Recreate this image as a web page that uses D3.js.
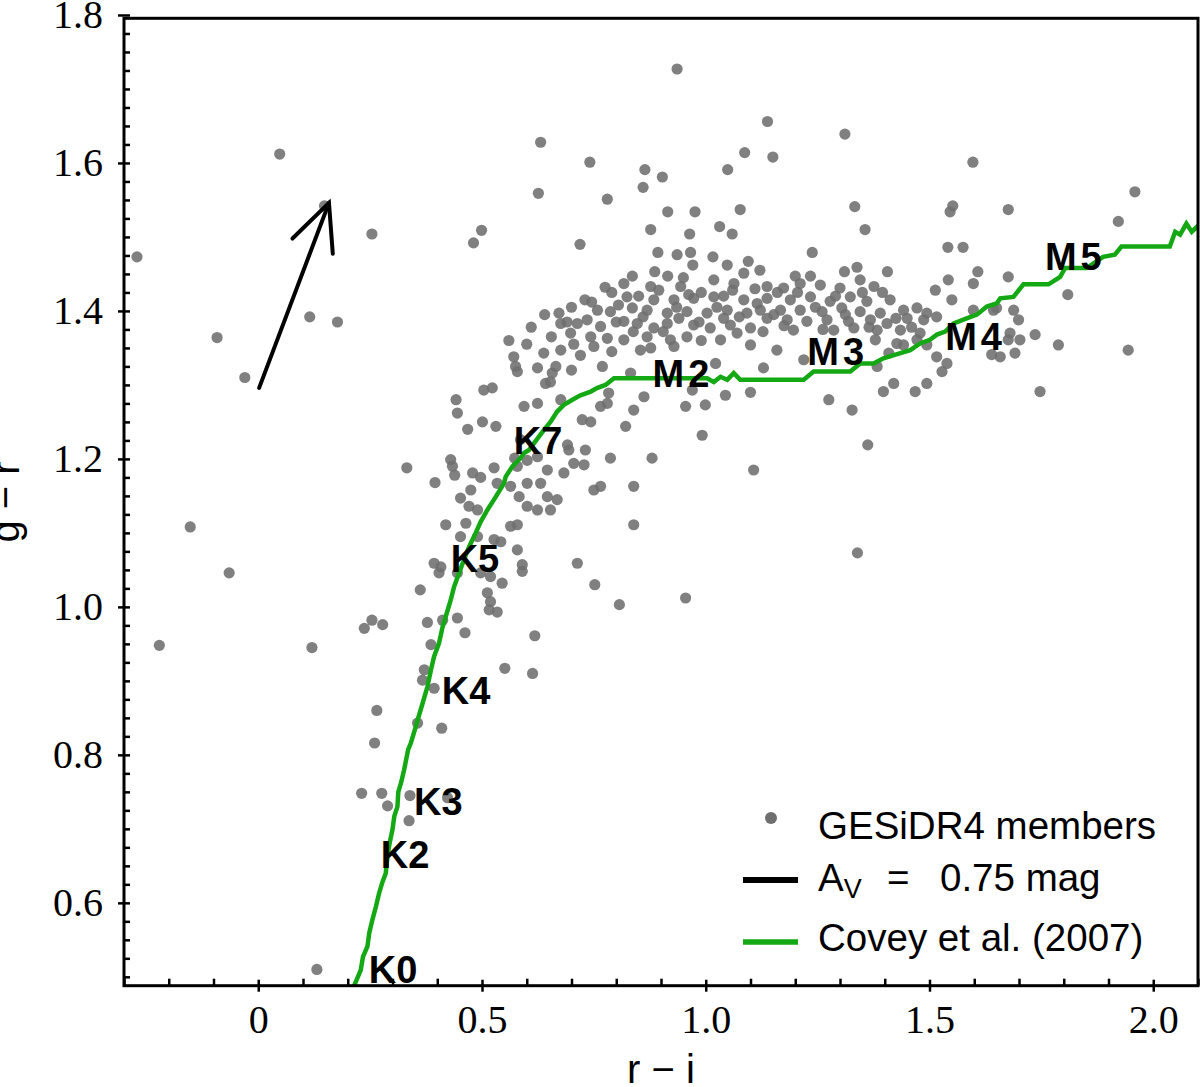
<!DOCTYPE html>
<html>
<head>
<meta charset="utf-8">
<script src="https://cdn.jsdelivr.net/npm/d3@7"></script>
<style>
  body { margin: 0; padding: 0; background: #fff; }
</style>
</head>
<body>
<script>

// GES iDR4 members: [r-i, g-r]
var members = [
  [-0.271,1.473],[0.048,1.612],[0.148,1.542],[0.254,1.504],[-0.092,1.364],[-0.030,1.310],
  [0.115,1.392],[0.177,1.385],[-0.152,1.108],[-0.065,1.046],[-0.221,0.948],[0.120,0.945],
  [0.237,0.971],[0.254,0.982],[0.278,0.976],[0.265,0.860],[0.260,0.816],[0.356,0.843],
  [0.410,0.836],[0.231,0.748],[0.276,0.748],[0.289,0.731],[0.339,0.745],[0.423,0.742],
  [0.337,0.711],[0.131,0.510],[0.631,1.628],[0.626,1.559],[0.481,1.492],[0.499,1.509],
  // upper cloud
  [0.936,1.727],[1.138,1.656],[1.311,1.639],[0.741,1.601],[1.087,1.614],[1.150,1.608],
  [1.597,1.601],[0.864,1.591],[0.903,1.581],[1.049,1.591],[0.860,1.567],[0.780,1.551],
  [0.915,1.534],[0.976,1.534],[1.077,1.537],[1.333,1.541],[1.552,1.542],[1.546,1.534],
  [1.676,1.537],[0.877,1.510],[0.964,1.504],[1.031,1.514],[1.059,1.504],[1.356,1.510],
  [0.719,1.490],[1.541,1.486],[1.575,1.486],[0.893,1.479],[0.936,1.476],[0.966,1.479],
  [1.016,1.473],[1.238,1.479],[0.971,1.462],[1.048,1.462],[1.095,1.467],[1.121,1.455],
  [1.310,1.453],[1.338,1.459],[1.406,1.453],[1.608,1.453],[0.836,1.447],[0.886,1.453],
  [0.915,1.447],[1.200,1.447],[1.234,1.447],
  // dense M-dwarf band
  [1.085,1.451],[0.817,1.437],[0.877,1.433],[0.944,1.433],[1.018,1.442],[1.063,1.437],
  [1.137,1.433],[0.824,1.419],[0.884,1.415],[0.929,1.415],[0.973,1.417],[1.018,1.419],
  [1.085,1.415],[1.137,1.417],[0.758,1.401],[0.787,1.399],[0.836,1.404],[0.869,1.401],
  [0.914,1.397],[0.958,1.399],[1.003,1.397],[1.048,1.401],[1.092,1.397],[1.152,1.395],
  [0.672,1.397],[0.676,1.383],[0.713,1.383],[0.735,1.388],[0.765,1.379],[0.817,1.386],
  [0.847,1.383],[0.884,1.377],[0.914,1.383],[0.973,1.381],[1.010,1.377],[1.055,1.381],
  [1.100,1.377],[0.698,1.370],[0.743,1.365],[0.780,1.363],[0.817,1.361],[0.869,1.365],
  [0.921,1.361],[1.033,1.361],[0.750,1.352],[0.854,1.347],[0.877,1.350],[0.929,1.352],
  [1.100,1.354],[1.159,1.347],[0.676,1.347],[0.571,1.338],[0.638,1.343],[0.575,1.325],
  [0.624,1.323],[0.665,1.325],[0.769,1.325],[1.022,1.329],[1.129,1.323],[0.579,1.318],
  [0.657,1.316],[0.653,1.304],[0.832,1.316],[0.523,1.296],[0.504,1.293],[0.642,1.302],
  [0.783,1.289],[0.862,1.284],[0.970,1.293],[1.044,1.286],[1.100,1.290],[0.676,1.280],
  [0.594,1.271],[0.624,1.275],[0.765,1.271],[0.780,1.275],[0.839,1.266],[0.955,1.271],
  [0.999,1.273],[0.724,1.253],[0.743,1.250],[0.821,1.244],[0.992,1.232],[0.531,1.244],
  [0.501,1.250],[0.586,1.226],[0.691,1.219],[0.880,1.201],[1.107,1.185],
  [0.700,1.405],[0.730,1.415],[0.790,1.425],[0.850,1.420],[0.950,1.445],[0.990,1.425],
  [1.040,1.420],[1.110,1.430],[0.800,1.385],[0.940,1.390],[0.990,1.360],[1.070,1.370],
  [0.720,1.340],[0.600,1.355],[0.700,1.320],
  [0.745,1.412],[0.775,1.432],[0.805,1.408],[0.860,1.392],[0.895,1.428],[0.905,1.372],
  [0.935,1.405],[0.962,1.422],[0.985,1.385],[1.025,1.405],[1.060,1.428],[1.075,1.392],
  [1.115,1.410],[1.128,1.372],[1.160,1.425],[1.175,1.380],[1.205,1.425],[1.245,1.405],
  [1.262,1.375],[1.290,1.420],[1.312,1.395],[1.350,1.425],[1.365,1.378],[1.395,1.425],
  [1.425,1.390],[1.460,1.378],[0.690,1.385],[0.655,1.365],[0.705,1.355],[0.790,1.345],
  [0.838,1.372],[0.958,1.365],[1.040,1.390],[0.610,1.378],[0.640,1.395],[0.560,1.360],
  // toward M3-M5
  [1.676,1.446],[1.174,1.431],[1.211,1.437],[1.256,1.435],[1.300,1.431],[1.345,1.442],
  [1.376,1.433],[1.542,1.442],[1.598,1.437],[1.513,1.428],[1.189,1.415],[1.234,1.419],
  [1.278,1.413],[1.323,1.419],[1.360,1.413],[1.412,1.415],[1.550,1.415],[1.122,1.401],
  [1.167,1.401],[1.211,1.401],[1.260,1.399],[1.304,1.404],[1.345,1.399],[1.390,1.397],
  [1.442,1.401],[1.472,1.404],[1.494,1.397],[1.598,1.401],[1.643,1.401],[1.688,1.401],
  [1.137,1.390],[1.182,1.388],[1.226,1.386],[1.271,1.388],[1.319,1.386],[1.368,1.388],
  [1.405,1.383],[1.450,1.390],[1.487,1.388],[1.516,1.392],[1.699,1.388],[1.196,1.374],
  [1.286,1.374],[1.331,1.377],[1.383,1.374],[1.435,1.374],[1.479,1.370],[1.219,1.334],
  [1.379,1.361],[1.427,1.356],[1.442,1.354],[1.472,1.361],[1.494,1.354],[1.680,1.370],
  [1.702,1.361],[1.736,1.368],[1.676,1.361],[1.788,1.354],[1.639,1.341],[1.658,1.338],
  [1.691,1.343],[1.409,1.343],[1.516,1.338],[1.539,1.329],[1.528,1.318],[1.383,1.325],
  [1.420,1.302],[1.397,1.291],[1.494,1.302],[1.468,1.291],[1.275,1.280],[1.327,1.266],
  [1.747,1.291],[1.959,1.561],[1.922,1.521],[1.809,1.422],[1.650,1.404],[1.944,1.347],
  [1.362,1.219],[1.339,1.073],[0.955,1.012],
  // K-dwarf branch
  [0.332,1.188],[0.395,1.168],[0.430,1.199],[0.434,1.190],[0.439,1.178],[0.479,1.181],
  [0.497,1.175],[0.527,1.188],[0.573,1.201],[0.579,1.190],[0.601,1.198],[0.624,1.203],
  [0.646,1.185],[0.683,1.181],[0.694,1.212],[0.705,1.194],[0.728,1.192],[0.731,1.212],
  [0.787,1.201],[0.839,1.163],[0.750,1.158],[0.765,1.163],[0.839,1.111],[0.452,1.147],
  [0.475,1.158],[0.471,1.136],[0.490,1.131],[0.534,1.167],[0.564,1.163],[0.601,1.167],
  [0.631,1.167],[0.583,1.149],[0.601,1.136],[0.624,1.131],[0.646,1.149],[0.668,1.145],
  [0.653,1.131],[0.419,1.111],[0.464,1.113],[0.452,1.095],[0.490,1.095],[0.527,1.091],
  [0.542,1.088],[0.564,1.109],[0.579,1.111],[0.579,1.077],[0.393,1.059],[0.408,1.054],
  [0.404,1.046],[0.445,1.046],[0.497,1.046],[0.519,1.041],[0.545,1.032],[0.590,1.057],
  [0.590,1.048],[0.713,1.059],[0.752,1.030],[0.807,1.003],[0.362,1.023],[0.512,1.019],
  [0.519,1.007],[0.516,0.996],[0.534,0.993],[0.378,0.979],[0.412,0.982],[0.445,0.985],
  [0.462,0.965],[0.386,0.949],[0.618,0.961],[0.371,0.915],[0.367,0.901],[0.393,0.890],
  [0.551,0.917],[0.613,0.910],[0.442,1.280],[0.445,1.262],[0.468,1.240]
];

// Covey et al. (2007) stellar locus: [r-i, g-r]
var coveyLocus = [
  [0.208,0.479],[0.229,0.509],[0.234,0.527],[0.244,0.541],[0.248,0.559],[0.255,0.577],
  [0.263,0.595],[0.270,0.613],[0.278,0.629],[0.285,0.640],[0.287,0.654],[0.291,0.672],
  [0.295,0.685],[0.300,0.699],[0.304,0.717],[0.311,0.730],[0.313,0.750],[0.319,0.762],
  [0.326,0.780],[0.335,0.807],[0.341,0.816],[0.350,0.834],[0.356,0.847],[0.365,0.865],
  [0.378,0.892],[0.386,0.915],[0.393,0.933],[0.404,0.951],[0.412,0.973],[0.419,0.987],
  [0.430,1.009],[0.4375,1.027],[0.449,1.046],[0.460,1.064],[0.471,1.081],[0.486,1.100],
  [0.497,1.115],[0.512,1.131],[0.531,1.149],[0.549,1.167],[0.553,1.176],[0.568,1.190],
  [0.586,1.201],[0.594,1.208],[0.605,1.212],[0.616,1.221],[0.638,1.239],[0.653,1.250],
  [0.668,1.264],[0.683,1.273],[0.702,1.280],[0.720,1.286],[0.743,1.291],[0.758,1.296],
  [0.776,1.300],[0.795,1.309],[0.817,1.309],[1.003,1.309],[1.018,1.304],[1.033,1.311],
  [1.048,1.307],[1.0625,1.316],[1.077,1.307],[1.219,1.307],[1.241,1.318],[1.323,1.318],
  [1.345,1.329],[1.375,1.329],[1.397,1.336],[1.435,1.343],[1.457,1.347],[1.479,1.356],
  [1.501,1.361],[1.5165,1.368],[1.535,1.372],[1.554,1.383],[1.583,1.390],[1.606,1.395],
  [1.628,1.406],[1.650,1.410],[1.658,1.417],[1.6875,1.419],[1.710,1.436],[1.766,1.436],
  [1.792,1.446],[1.803,1.458],[1.851,1.458],[1.888,1.473],[1.914,1.476],[1.929,1.487],
  [2.037,1.487],[2.049,1.507],[2.060,1.503],[2.074,1.518],[2.086,1.507],[2.100,1.515],
  [2.111,1.520]
];

// spectral type annotations (left/baseline of label)
var spectralTypes = ["K0","K2","K3","K4","K5","K7","M2","M3","M4","M5"];
var spectralRI    = [0.247,0.274,0.348,0.410,0.430,0.571,0.881,1.227,1.535,1.758];
var spectralGR    = [0.491,0.647,0.719,0.869,1.047,1.207,1.297,1.327,1.347,1.455];

// reddening vector for A_V = 0.75 mag
var avStart = [0.002, 1.296];
var avShift = [0.156, 0.250];

var xTicks = [0, 0.5, 1.0, 1.5, 2.0];
var yTicks = [0.6, 0.8, 1.0, 1.2, 1.4, 1.6, 1.8];

var legendLabels = ["GESiDR4 members", "Covey et al. (2007)"];

// ---------------------------------------------------------------
var W = 1200, H = 1087;
var L = 124, R = 1198, T = 18.3, B = 985.7;
var grey = "#6e6e6e", green = "#14a814";
var sans = "'Liberation Sans', Arial, sans-serif";
var serif = "'Liberation Serif', 'Times New Roman', serif";

var x = d3.scaleLinear().domain([-0.3, 2.1]).range([L, R]);
var y = d3.scaleLinear().domain([0.488, 1.7955]).range([B, T]);

var svg = d3.select("body").append("svg")
  .attr("width", W).attr("height", H);

svg.append("defs").append("clipPath").attr("id", "clip")
  .append("rect").attr("x", L).attr("y", T).attr("width", R - L).attr("height", B - T);

var plot = svg.append("g").attr("clip-path", "url(#clip)");

// scatter
plot.selectAll("circle.member").data(members).enter().append("circle")
  .attr("class", "member")
  .attr("cx", function(d){ return x(d[0]); })
  .attr("cy", function(d){ return y(d[1]); })
  .attr("r", 5.6)
  .style("fill", grey)
  .style("fill-opacity", 0.88);

// locus
plot.append("path").datum(coveyLocus)
  .attr("d", d3.line().x(function(d){ return x(d[0]); }).y(function(d){ return y(d[1]); }))
  .style("fill", "none").style("stroke", green).style("stroke-width", 4.5)
  .style("stroke-linejoin", "miter");

// reddening arrow
var ax0 = x(avStart[0]), ay0 = y(avStart[1]);
var ax1 = x(avStart[0] + avShift[0]), ay1 = y(avStart[1] + avShift[1]);
var ang = Math.atan2(ay0 - ay1, ax0 - ax1), hl = 51, ha = 25 * Math.PI / 180;
var arrow = svg.append("g").style("stroke", "#000").style("stroke-width", 4)
  .style("fill", "none").style("stroke-linecap", "round");
arrow.append("line").attr("x1", ax0).attr("y1", ay0).attr("x2", ax1).attr("y2", ay1);
arrow.append("path").attr("d",
  "M" + (ax1 + hl * Math.cos(ang + ha)) + "," + (ay1 + hl * Math.sin(ang + ha)) +
  "L" + ax1 + "," + ay1 +
  "L" + (ax1 + hl * Math.cos(ang - ha)) + "," + (ay1 + hl * Math.sin(ang - ha)));

// spectral type labels
svg.selectAll("text.sptype").data(spectralTypes).enter().append("text")
  .attr("class", "sptype")
  .attr("x", function(d, i){ return x(spectralRI[i]); })
  .attr("y", function(d, i){ return y(spectralGR[i]); })
  .style("font-family", sans).style("font-weight", "bold").style("font-size", "38px")
  .style("letter-spacing", function(d){ return d[0] === "M" ? "4px" : "0px"; })
  .text(function(d){ return d; });

// axes
var xAxis = d3.axisBottom(x).tickValues(xTicks).tickSize(6).tickPadding(13)
  .tickFormat(function(d){ return d === 0 ? "0" : d3.format(".1f")(d); });
var yAxis = d3.axisLeft(y).tickValues(yTicks).tickSize(6).tickPadding(15)
  .tickFormat(d3.format(".1f"));

var xMinor = d3.range(-3, 22).map(function(k){ return k / 10; })
  .filter(function(v){ return Math.abs(v * 2 - Math.round(v * 2)) > 1e-6; });
var yMinor = d3.range(20, 72).filter(function(k){ return k % 8 !== 0; })
  .map(function(k){ return k / 40; });

var gx = svg.append("g").attr("transform", "translate(0," + B + ")").call(xAxis);
svg.append("g").attr("transform", "translate(0," + B + ")")
  .call(d3.axisBottom(x).tickValues(xTicks).tickSize(-6).tickFormat(""));
svg.append("g").attr("transform", "translate(0," + B + ")")
  .call(d3.axisBottom(x).tickValues(xMinor).tickSize(-7).tickFormat(""));

var gy = svg.append("g").attr("transform", "translate(" + L + ",0)").call(yAxis);
svg.append("g").attr("transform", "translate(" + L + ",0)")
  .call(d3.axisLeft(y).tickValues(yTicks).tickSize(-6).tickFormat(""));
svg.append("g").attr("transform", "translate(" + L + ",0)")
  .call(d3.axisLeft(y).tickValues(yMinor).tickSize(-6).tickFormat(""));

svg.selectAll(".domain").remove();
svg.selectAll(".tick line").style("stroke", "#000").style("stroke-width", 2.5);
svg.selectAll(".tick text").style("font-family", serif).style("font-size", "40px").style("fill", "#000");

// frame
svg.append("rect").attr("x", L).attr("y", T).attr("width", R - L).attr("height", B - T)
  .style("fill", "none").style("stroke", "#000").style("stroke-width", 3);

// axis titles
svg.append("text").attr("x", (L + R) / 2).attr("y", 1083)
  .attr("text-anchor", "middle")
  .style("font-family", sans).style("font-size", "40px")
  .text("r \u2212 i");
svg.append("text")
  .attr("transform", "translate(19," + ((T + B) / 2) + ") rotate(-90)")
  .attr("text-anchor", "middle")
  .style("font-family", sans).style("font-size", "40px")
  .text("g \u2212 r");

// legend
var lg = svg.append("g").style("font-family", sans).style("font-size", "38.5px");
lg.append("circle").attr("cx", 771).attr("cy", 818).attr("r", 6).style("fill", grey);
lg.append("text").attr("x", 818).attr("y", 839).text(legendLabels[0]);

lg.append("line").attr("x1", 743).attr("x2", 798).attr("y1", 880).attr("y2", 880)
  .style("stroke", "#000").style("stroke-width", 6);
var av = lg.append("text").attr("x", 818).attr("y", 891);
av.append("tspan").text("A");
av.append("tspan").attr("dy", 7).style("font-size", "27px").text("V");
av.append("tspan").attr("x", 887).attr("dy", -7).text("=");
av.append("tspan").attr("x", 940).text("0.75 mag");

lg.append("line").attr("x1", 743).attr("x2", 798).attr("y1", 942).attr("y2", 942)
  .style("stroke", green).style("stroke-width", 5.5);
lg.append("text").attr("x", 818).attr("y", 951).text(legendLabels[1]);

</script>
</body>
</html>
